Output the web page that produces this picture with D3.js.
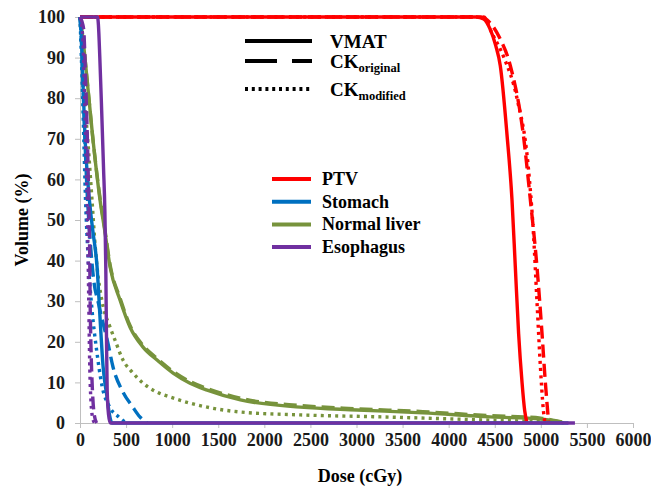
<!DOCTYPE html>
<html><head><meta charset="utf-8">
<script src="https://cdn.jsdelivr.net/npm/d3@7"></script>
<style>body{margin:0;background:#fff}svg{display:block}</style>
</head><body><div id="chart"></div>
<script>
// Dose (cGy), Volume (%) pairs
const ptvVmat = [[0,100],[4300,100],[4380,99.5],[4450,97],[4510,93],[4560,88],[4633,71],[4687,55],[4723,38.5],[4759,22],[4796,10],[4825,3],[4850,0]];
const ptvCkOriginal = [[0,100],[4350,100],[4416,99.3],[4550,95],[4669,88],[4810,71],[4886,55],[4958,38.5],[5013,22],[5049,10],[5070,4],[5085,0]];
const ptvCkModified = [[0,100],[4380,100],[4470,96],[4600,90],[4741,80],[4864,63],[4919,47],[4958,30],[4995,14],[5027,3.3],[5045,0]];

const stomachVmat = [[0,100],[15,95],[30,85],[55,70],[90,58],[120,51],[141,47],[185,38.5],[217,26],[250,14],[293,6.4],[320,2],[347,0],[5300,0]];
const stomachCkOriginal = [[0,100],[20,92],[45,75],[75,58],[110,45],[150,35],[200,29.5],[250,24.6],[300,20],[358,13.8],[467,7.6],[570,4],[650,1.5],[730,0]];
const stomachCkModified = [[0,100],[15,90],[35,75],[60,55],[90,40],[130,28],[180,18],[240,9],[320,4],[420,1.5],[500,0]];

const liverVmat = [[0,100],[30,95],[75,85],[140,70],[217,55],[271,47],[326,38.5],[434,30.3],[543,23.6],[684,18.7],[836,15.5],[1010,12.3],[1194,9.8],[1380,8.1],[1740,5.7],[2390,3.9],[3010,3.2],[3720,2.5],[4450,1.5],[5000,1.0],[5200,0.3],[5250,0]];
const liverCkOriginal = [[0,100],[30,95],[75,85],[140,70],[217,55.5],[271,47.5],[326,39],[434,30.8],[543,24],[684,19.1],[836,15.9],[1010,12.7],[1194,10.2],[1380,8.5],[1740,6.1],[2390,4.3],[3010,3.5],[3720,2.8],[4450,1.8],[5000,1.2],[5200,0.4],[5280,0]];
const liverCkModified = [[0,100],[20,92],[50,80],[90,68],[130,55],[160,45],[185,38.5],[239,30],[326,23.6],[380,20.4],[467,15.5],[575,12.3],[684,9.8],[836,7.6],[977,6.4],[1380,3.9],[1740,2.7],[2390,2],[3280,1.5],[4450,0.7],[5000,0.3],[5100,0]];

const esophagusVmat = [[0,100],[190,100],[200,98],[215,90],[235,77],[255,63],[270,52],[280,38],[288,20],[295,8],[310,2],[328,0],[5370,0]];
const esophagusCkOriginal = [[0,100],[40,97],[60,85],[80,70],[95,55],[105,42],[110,30],[120,18],[135,8],[155,2],[180,0]];
const esophagusCkModified = [[0,100],[30,95],[50,80],[70,62],[85,45],[95,30],[105,15],[120,5],[140,1],[160,0]];

const organs = ["PTV","Stomach","Normal liver","Esophagus"];
const organColors = ["#ff0000","#0070c0","#77933c","#7030a0"];
const plans = ["VMAT","CK","CK"];
const planSubs = ["","original","modified"];
const xTicks = [0,500,1000,1500,2000,2500,3000,3500,4000,4500,5000,5500,6000];
const yTicks = [0,10,20,30,40,50,60,70,80,90,100];

const W = 651, H = 487;
const m = {l:80, r:18, t:17, b:64};
const svg = d3.select("#chart").append("svg").attr("width",W).attr("height",H);
const x = d3.scaleLinear().domain([0,6000]).range([m.l, W-m.r]);
const y = d3.scaleLinear().domain([0,100]).range([H-m.b, m.t]);
const font = "'Times New Roman','Liberation Serif',serif";

// axes
const xa = svg.append("g").attr("transform",`translate(0,${y(0)})`).call(d3.axisBottom(x).tickValues(xTicks).tickSize(5).tickPadding(5).tickFormat(d3.format("d")));
const ya = svg.append("g").attr("transform",`translate(${x(0)},0)`).call(d3.axisLeft(y).tickValues(yTicks).tickSize(5).tickPadding(10));
[xa,ya].forEach(a=>{
  a.attr("font-family",font);
  a.selectAll("path,line").attr("stroke","#bfbfbf").attr("stroke-width",1);
  a.selectAll("text").attr("font-family",font).attr("font-weight","bold").attr("font-size",18).attr("fill","#1a1a1a");
});

const line = d3.line().x(d=>x(d[0])).y(d=>y(d[1])).curve(d3.curveMonotoneX);
const dashes = [null,"13,6","3,4.2"];
const series = [
  [liverVmat,2,0],[liverCkOriginal,2,1],[liverCkModified,2,2],
  [ptvVmat,0,0],[ptvCkOriginal,0,1],[ptvCkModified,0,2],
  [stomachVmat,1,0],[stomachCkOriginal,1,1],[stomachCkModified,1,2],
  [esophagusCkOriginal,3,1],[esophagusCkModified,3,2],[esophagusVmat,3,0]
];
series.forEach(([data,oi,pi])=>{
  svg.append("path").datum(data).attr("d",line).attr("fill","none")
    .attr("stroke",organColors[oi]).attr("stroke-width",3.4)
    .attr("stroke-dasharray",dashes[pi]);
});

// legend: plans
const lg1 = svg.append("g");
const lg1Y = [41,61,89], lg1B = [48,68,96];
lg1Y.forEach((yy,i)=>{
  lg1.append("line").attr("x1",245).attr("x2",312).attr("y1",yy).attr("y2",yy)
    .attr("stroke","#000").attr("stroke-width",4)
    .attr("stroke-dasharray", i===0?null:(i===1?"32,15":"3,3.8"));
  const t = lg1.append("text").attr("x",330).attr("y",lg1B[i]).attr("font-family",font)
    .attr("font-weight","bold").attr("font-size",19).attr("fill","#000").text(plans[i]);
  if(planSubs[i]) t.append("tspan").attr("font-size",12.5).attr("dy",4).text(planSubs[i]);
});

// legend: organs
const lg2 = svg.append("g");
organs.forEach((o,i)=>{
  const yy = 179 + i*22.7;
  lg2.append("line").attr("x1",272).attr("x2",311).attr("y1",yy).attr("y2",yy)
    .attr("stroke",organColors[i]).attr("stroke-width",4);
  lg2.append("text").attr("x",322).attr("y",yy+6).attr("font-family",font)
    .attr("font-weight","bold").attr("font-size",18).attr("fill","#000").text(o);
});

// axis titles
svg.append("text").attr("x",360).attr("y",482).attr("text-anchor","middle")
  .attr("font-family",font).attr("font-weight","bold").attr("font-size",18).text("Dose (cGy)");
svg.append("text").attr("transform",`translate(28,${(y(0)+y(100))/2}) rotate(-90)`).attr("text-anchor","middle")
  .attr("font-family",font).attr("font-weight","bold").attr("font-size",18).text("Volume (%)");
</script></body></html>
